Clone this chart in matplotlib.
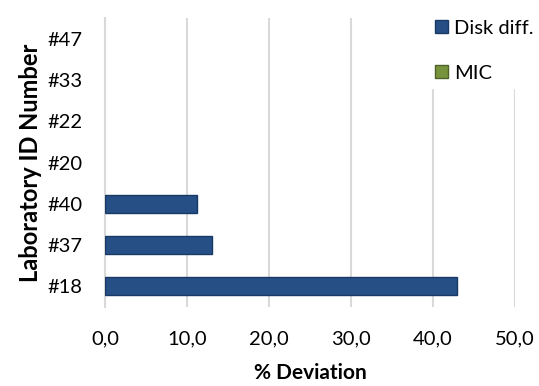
import matplotlib
matplotlib.use('Agg')
import matplotlib.pyplot as plt
from matplotlib.patches import Patch

plt.rcParams['font.family'] = ['Lato', 'DejaVu Sans']

labs = ['#18', '#37', '#40', '#20', '#22', '#33', '#47']
disk = [42.9, 13.1, 11.2, 0, 0, 0, 0]
mic = [0, 0, 0, 0, 0, 0, 0]
xticks = [0, 10, 20, 30, 40, 50]

fig = plt.figure(figsize=(5.39, 3.86), dpi=100)
ax = fig.add_axes([0.195, 0.205, 0.76, 0.748])

ax.barh(range(len(labs)), disk, height=0.44, color='#264F86', edgecolor='#1A3A66',
        linewidth=[1 if v > 0 else 0 for v in disk], zorder=3)
ax.barh(range(len(labs)), mic, height=0.44, color='#77933C', edgecolor='#4F6228',
        linewidth=[1 if v > 0 else 0 for v in mic], zorder=3)

ax.set_xlim(0, 50)
ax.set_ylim(-0.5, len(labs) - 0.5)
ax.set_xticks(xticks)
ax.set_xticklabels([f'{v:.1f}'.replace('.', ',') for v in xticks], fontsize=14.5)
ax.set_yticks(range(len(labs)))
ax.set_yticklabels(labs, fontsize=14.5)
ax.tick_params(length=0)
ax.tick_params(axis='y', pad=16)
ax.tick_params(axis='x', pad=17)
ax.grid(axis='x', color='#D9D9D9', linewidth=1.5, zorder=0)
for s in ['top', 'right', 'bottom']:
    ax.spines[s].set_visible(False)
ax.spines['left'].set_color('#D9D9D9')
ax.spines['left'].set_linewidth(1.5)

ax.set_xlabel('% Deviation', fontsize=15, fontweight='bold', labelpad=11.5)
ax.set_ylabel('Laboratory ID Number', fontsize=17, fontweight='bold', labelpad=4)

handles = [Patch(facecolor='#264F86', edgecolor='#1A3A66', label='Disk diff.'),
           Patch(facecolor='#77933C', edgecolor='#4F6228', label='MIC')]
leg = fig.legend(handles=handles, loc='upper left', bbox_to_anchor=(0.795, 0.965),
                 frameon=True, fontsize=14.5, handlelength=0.65, handleheight=0.65,
                 handletextpad=0.3, labelspacing=1.4, borderpad=0.3, borderaxespad=0)
leg.get_frame().set_edgecolor('white')
leg.get_frame().set_facecolor('white')
leg.get_frame().set_alpha(1)

fig.savefig('out.png', dpi=100)
